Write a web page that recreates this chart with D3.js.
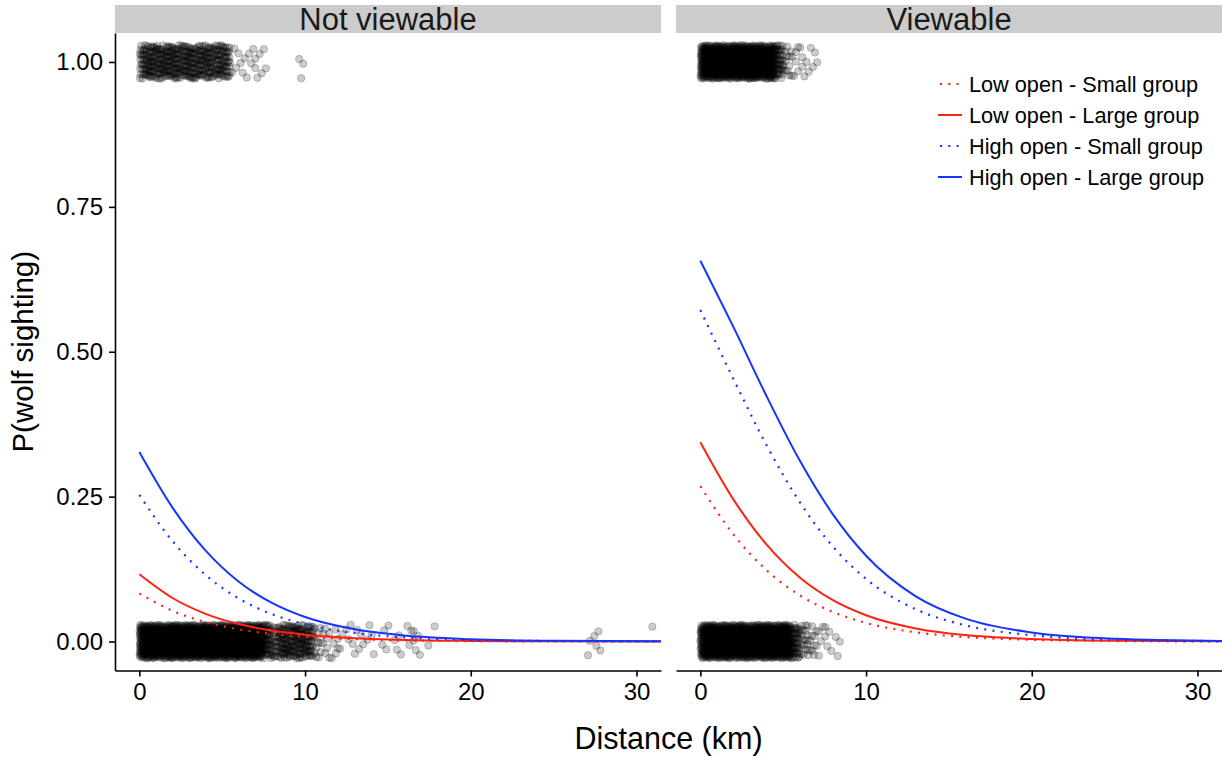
<!DOCTYPE html>
<html>
<head>
<meta charset="utf-8">
<script src="https://cdn.jsdelivr.net/npm/d3@7"></script>
<style>
  html, body { margin: 0; padding: 0; background: #fff; }
  svg { display: block; font-family: "Liberation Sans", Arial, Helvetica, sans-serif; }
</style>
</head>
<body>
<svg id="chart" width="1222" height="757"></svg>
<script>
// ---------------- DATA ----------------
const panels = ["Not viewable", "Viewable"];
const xTicks = [0, 10, 20, 30];
const yTicks = [0, 0.25, 0.5, 0.75, 1];
const yTickLabels = ["0.00", "0.25", "0.50", "0.75", "1.00"];

const seriesLabels = ["Low open - Small group", "Low open - Large group", "High open - Small group", "High open - Large group"];
const seriesColors = ["#ff2213", "#ff2213", "#1535ff", "#1535ff"];
const seriesDotted = [true, false, true, false];

// distances (km) at which the fitted curves were read
const curveDistance = [0, 2, 4, 6, 8, 10, 13, 16, 20, 25, 31.5];
// Not viewable panel
const nvLowSmall  = [0.083, 0.0530, 0.0335, 0.0210, 0.0131, 0.0081, 0.0040, 0.0019, 0.0007, 0.0002, 0.0001];
const nvLowLarge  = [0.116, 0.0751, 0.0478, 0.0301, 0.0189, 0.0118, 0.0058, 0.0028, 0.0011, 0.0003, 0.0001];
const nvHighSmall = [0.253, 0.1732, 0.1148, 0.0742, 0.0473, 0.0298, 0.0147, 0.0072, 0.0028, 0.0008, 0.0002];
const nvHighLarge = [0.327, 0.2311, 0.1568, 0.1032, 0.0665, 0.0422, 0.0210, 0.0103, 0.0040, 0.0012, 0.0003];
// Viewable panel
const vLowSmall   = [0.268, 0.1847, 0.1229, 0.0798, 0.0509, 0.0321, 0.0159, 0.0078, 0.0030, 0.0009, 0.0002];
const vLowLarge   = [0.344, 0.2449, 0.1671, 0.1105, 0.0714, 0.0454, 0.0226, 0.0111, 0.0043, 0.0013, 0.0003];
const vHighSmall  = [0.572, 0.4527, 0.3385, 0.2405, 0.1638, 0.1081, 0.0557, 0.0279, 0.0109, 0.0033, 0.0007];
const vHighLarge  = [0.657, 0.5424, 0.4231, 0.3122, 0.2193, 0.1480, 0.0780, 0.0395, 0.0155, 0.0047, 0.0010];

// observations: number of points per 0.5 km distance bin (starting at 0 km)
const binWidth = 0.5;
const nvSighted = [36, 42, 42, 42, 42, 40, 40, 40, 40, 38, 34, 4, 4, 4, 4, 2, 0, 0, 0, 3];
const nvAbsent  = [90, 90, 90, 90, 90, 90, 90, 90, 90, 90, 90, 90, 90, 90, 90,
                   45, 30, 45, 45, 45, 40, 12, 8, 6, 3, 3, 4, 3, 2, 3, 2, 3, 3, 5, 1, 1,
                   0, 0, 0, 0, 0, 0, 0, 0, 0, 0, 0, 0, 0, 0, 0, 0, 0, 0,
                   3, 3, 0, 0, 0, 0, 0, 1];
const vSighted  = [90, 90, 90, 90, 90, 90, 90, 90, 90, 40, 12, 6, 5, 4, 1];
const vAbsent   = [90, 90, 90, 90, 90, 90, 90, 90, 90, 90, 90, 45, 18, 10, 5, 5, 3];

// ---------------- LAYOUT ----------------
const svg = d3.select("#chart");
const panelX = [115, 676];
const panelW = 546;
const panelTop = 33, panelBottom = 670.5;
const stripTop = 5;

const x = d3.scaleLinear().domain([-1.47, 31.48]).range([0, panelW]);
const y = d3.scaleLinear().domain([-0.05, 1.05]).range([panelBottom, panelTop]);

const curvesByPanel = [
  [nvLowSmall, nvLowLarge, nvHighSmall, nvHighLarge],
  [vLowSmall, vLowLarge, vHighSmall, vHighLarge]
];
const obsByPanel = [
  [{outcome: 1, counts: nvSighted}, {outcome: 0, counts: nvAbsent}],
  [{outcome: 1, counts: vSighted}, {outcome: 0, counts: vAbsent}]
];

const frac = v => v - Math.floor(v);
const line = d3.line().x(d => x(d[0])).y(d => y(d[1])).curve(d3.curveMonotoneX);

svg.append("defs").selectAll("clipPath").data(panels).join("clipPath")
  .attr("id", (d, i) => "clip" + i)
  .append("rect").attr("x", 0).attr("y", panelTop).attr("width", panelW).attr("height", panelBottom - panelTop);

panels.forEach((name, pi) => {
  const g = svg.append("g").attr("transform", `translate(${panelX[pi]},0)`);

  // strip
  g.append("rect").attr("x", 0).attr("y", stripTop).attr("width", panelW).attr("height", panelTop - stripTop)
    .attr("fill", "#cccccc");
  g.append("text").attr("x", panelW / 2).attr("y", panelTop - 3).attr("text-anchor", "middle")
    .attr("font-size", 31).attr("fill", "#1a1a1a").text(name);

  // jittered observations
  const pts = [];
  let n = 0;
  obsByPanel[pi].forEach(o => {
    o.counts.forEach((c, bi) => {
      for (let k = 0; k < c; k++) {
        n++;
        const dx = bi * binWidth + frac(n * 0.7548776662 + 0.31) * binWidth;
        const dy = o.outcome + 0.029 * (2 * frac(n * 0.5698402910 + 0.17) - 1);
        pts.push([dx, dy]);
      }
    });
  });
  g.append("g").attr("clip-path", `url(#clip${pi})`).selectAll("circle").data(pts).join("circle")
    .attr("cx", d => x(d[0])).attr("cy", d => y(d[1])).attr("r", 3.7)
    .attr("fill", "rgba(0,0,0,0.2)").attr("stroke", "rgba(0,0,0,0.2)").attr("stroke-width", 1);

  // fitted curves
  const cg = g.append("g").attr("clip-path", `url(#clip${pi})`);
  curvesByPanel[pi].forEach((vals, si) => {
    cg.append("path").datum(curveDistance.map((d, j) => [d, vals[j]]))
      .attr("d", line).attr("fill", "none")
      .attr("stroke", seriesColors[si]).attr("stroke-width", seriesDotted[si] ? 2.2 : 2)
      .attr("stroke-dasharray", seriesDotted[si] ? "2,6.3" : null);
  });

  // x axis
  const xa = g.append("g").attr("transform", `translate(0,${panelBottom})`)
    .call(d3.axisBottom(x).tickValues(xTicks).tickSize(6).tickSizeOuter(0).tickPadding(6));
  xa.select(".domain").attr("stroke", "#000").attr("stroke-width", 1.6);
  xa.selectAll(".tick line").attr("stroke", "#000").attr("stroke-width", 1.6);
  xa.selectAll(".tick text").attr("font-size", 24).attr("fill", "#000").attr("font-family", "Liberation Sans, Arial, sans-serif");

  if (pi === 0) {
    const ya = g.append("g")
      .call(d3.axisLeft(y).tickValues(yTicks).tickFormat((d, i) => yTickLabels[i]).tickSize(6).tickSizeOuter(0).tickPadding(6));
    ya.select(".domain").attr("stroke", "#000").attr("stroke-width", 1.6);
    ya.selectAll(".tick line").attr("stroke", "#000").attr("stroke-width", 1.6);
    ya.selectAll(".tick text").attr("font-size", 24).attr("fill", "#000").attr("font-family", "Liberation Sans, Arial, sans-serif");
  }
});

// axis titles
svg.append("text").attr("x", panelX[0] + (panelX[1] + panelW - panelX[0]) / 2).attr("y", 749)
  .attr("text-anchor", "middle").attr("font-size", 30.5).attr("fill", "#000").text("Distance (km)");
svg.append("text").attr("transform", `translate(33,${(panelTop + panelBottom) / 2}) rotate(-90)`)
  .attr("text-anchor", "middle").attr("font-size", 29.5).attr("fill", "#000").text("P(wolf sighting)");

// legend
const lg = svg.append("g").attr("transform", "translate(938,84)");
seriesLabels.forEach((lab, i) => {
  const row = lg.append("g").attr("transform", `translate(0,${i * 31})`);
  row.append("line").attr("x1", 0).attr("x2", 24).attr("y1", 0).attr("y2", 0)
    .attr("stroke", seriesColors[i]).attr("stroke-width", seriesDotted[i] ? 2.2 : 2)
    .attr("stroke-dasharray", seriesDotted[i] ? "2,6.3" : null)
    .attr("stroke-dashoffset", seriesDotted[i] ? -2 : null);
  row.append("text").attr("x", 31).attr("y", 0).attr("dy", "0.35em")
    .attr("font-size", 21.7).attr("fill", "#000").text(lab);
});
</script>
</body>
</html>
